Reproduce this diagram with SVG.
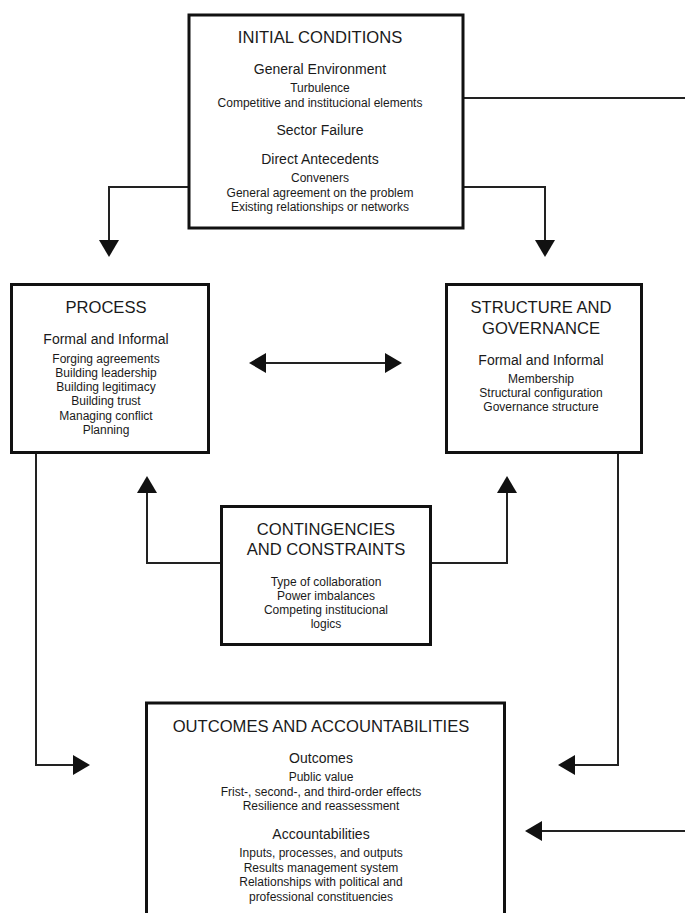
<svg xmlns="http://www.w3.org/2000/svg" width="685" height="913" viewBox="0 0 685 913">
  <style>
    .box { fill: #fff; stroke: #111; stroke-width: 3; }
    .conn { fill: none; stroke: #222; stroke-width: 2; }
    text { font-family: "Liberation Sans", Arial, sans-serif; fill: #1a1a1a; text-anchor: middle; }
    .title { font-size: 16.6px; }
    .sub { font-size: 14px; }
    .item { font-size: 12px; }
  </style>
  <defs>
    <!-- solid arrowhead; its base sits on the path end and the tip extends beyond -->
    <marker id="arrow" markerUnits="userSpaceOnUse" markerWidth="18" markerHeight="20" viewBox="0 0 18 20" refX="0" refY="10" orient="auto-start-reverse">
      <path d="M0,0 L17,10 L0,20 z" fill="#111"/>
    </marker>
  </defs>

  <g id="connectors">
    <path class="conn" d="M189,187 H109 V240" marker-end="url(#arrow)"/>
    <path class="conn" d="M463,187 H545 V240" marker-end="url(#arrow)"/>
    <path class="conn" d="M463,98 H700 V831 H542" marker-end="url(#arrow)"/>
    <path class="conn" d="M266,363 H385" marker-start="url(#arrow)" marker-end="url(#arrow)"/>
    <path class="conn" d="M221,563 H147 V493" marker-end="url(#arrow)"/>
    <path class="conn" d="M431,563 H507 V493" marker-end="url(#arrow)"/>
    <path class="conn" d="M36,453 V765 H73" marker-end="url(#arrow)"/>
    <path class="conn" d="M618,453 V765 H575" marker-end="url(#arrow)"/>
  </g>

  <g id="initial-conditions">
    <rect class="box" x="189" y="15" width="274" height="213"/>
    <text class="title" x="320" y="43">INITIAL CONDITIONS</text>
    <text class="sub" x="320" y="74">General Environment</text>
    <text class="item" x="320" y="92">Turbulence</text>
    <text class="item" x="320" y="106.5">Competitive and institucional elements</text>
    <text class="sub" x="320" y="135">Sector Failure</text>
    <text class="sub" x="320" y="164">Direct Antecedents</text>
    <text class="item" x="320" y="182">Conveners</text>
    <text class="item" x="320" y="196.5">General agreement on the problem</text>
    <text class="item" x="320" y="211">Existing relationships or networks</text>
  </g>

  <g id="process">
    <rect class="box" x="11.5" y="284.5" width="197" height="168"/>
    <text class="title" x="106" y="313">PROCESS</text>
    <text class="sub" x="106" y="344">Formal and Informal</text>
    <text class="item" x="106" y="363">Forging agreements</text>
    <text class="item" x="106" y="377">Building leadership</text>
    <text class="item" x="106" y="391">Building legitimacy</text>
    <text class="item" x="106" y="405">Building trust</text>
    <text class="item" x="106" y="419.5">Managing conflict</text>
    <text class="item" x="106" y="434">Planning</text>
  </g>

  <g id="structure-governance">
    <rect class="box" x="446.5" y="284.5" width="195" height="168"/>
    <text class="title" x="541" y="313">STRUCTURE AND</text>
    <text class="title" x="541" y="333.5">GOVERNANCE</text>
    <text class="sub" x="541" y="365">Formal and Informal</text>
    <text class="item" x="541" y="383">Membership</text>
    <text class="item" x="541" y="397">Structural configuration</text>
    <text class="item" x="541" y="411">Governance structure</text>
  </g>

  <g id="contingencies-constraints">
    <rect class="box" x="221.5" y="506.5" width="209" height="138"/>
    <text class="title" x="326" y="535">CONTINGENCIES</text>
    <text class="title" x="326" y="555">AND CONSTRAINTS</text>
    <text class="item" x="326" y="586">Type of collaboration</text>
    <text class="item" x="326" y="600">Power imbalances</text>
    <text class="item" x="326" y="614">Competing institucional</text>
    <text class="item" x="326" y="628">logics</text>
  </g>

  <g id="outcomes-accountabilities">
    <rect class="box" x="146.5" y="703" width="358" height="240"/>
    <text class="title" x="321" y="732">OUTCOMES AND ACCOUNTABILITIES</text>
    <text class="sub" x="321" y="763">Outcomes</text>
    <text class="item" x="321" y="781">Public value</text>
    <text class="item" x="321" y="795.5">Frist-, second-, and third-order effects</text>
    <text class="item" x="321" y="810">Resilience and reassessment</text>
    <text class="sub" x="321" y="839">Accountabilities</text>
    <text class="item" x="321" y="857">Inputs, processes, and outputs</text>
    <text class="item" x="321" y="871.5">Results management system</text>
    <text class="item" x="321" y="886">Relationships with political and</text>
    <text class="item" x="321" y="900.5">professional constituencies</text>
  </g>
</svg>
